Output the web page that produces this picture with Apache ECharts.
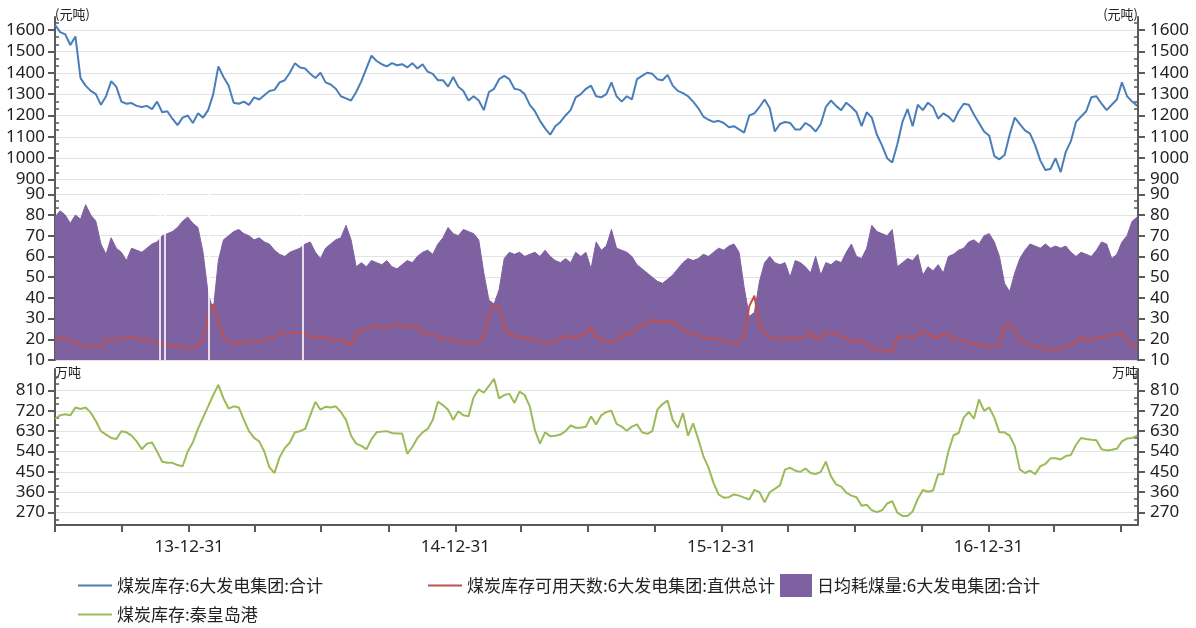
<!DOCTYPE html>
<html>
<head>
<meta charset="utf-8">
<script src="https://cdn.jsdelivr.net/npm/echarts@6/dist/echarts.min.js"></script>
<style>
  html, body { margin: 0; padding: 0; background: #fff; }
  #chart { width: 1196px; height: 628px; }
</style>
</head>
<body>
<div id="chart"></div>
<script>
// Weekly readings: first value on 2013-06-30, then one value every 7 days.
const firstDay = [2013, 5, 30];
const lastDay = [2017, 6, 24];
const stepDays = 7;

// 煤炭库存:6大发电集团:合计
const stockTotal = [
  1625, 1590, 1580, 1530, 1570, 1375, 1340, 1315, 1300, 1250,
  1290, 1360, 1335, 1265, 1255, 1258, 1245, 1240, 1245, 1230,
  1265, 1215, 1220, 1185, 1155, 1190, 1200, 1165, 1210, 1190,
  1225, 1300, 1430, 1380, 1340, 1260, 1255, 1265, 1250, 1285,
  1275, 1295, 1315, 1320, 1355, 1365, 1400, 1445, 1425, 1420,
  1395, 1375, 1400, 1355, 1345, 1325, 1290, 1280, 1270, 1310,
  1360, 1420, 1480, 1455, 1440, 1430, 1445, 1435, 1440, 1425,
  1445, 1420, 1440, 1405, 1395, 1365, 1365, 1335, 1380, 1335,
  1315, 1270, 1290, 1270, 1225, 1310, 1325, 1370, 1385, 1370,
  1325, 1320, 1300, 1250, 1220, 1175, 1140, 1110, 1150, 1170,
  1200, 1225, 1285, 1300, 1325, 1340, 1290, 1285, 1300, 1355,
  1290, 1265, 1290, 1275, 1370, 1385, 1400, 1395, 1370, 1365,
  1390, 1340, 1315, 1305, 1290, 1265, 1235, 1195, 1180, 1170,
  1175, 1165, 1145, 1150, 1135, 1120, 1200, 1210, 1240, 1275,
  1235, 1125, 1160, 1170, 1165, 1135, 1135, 1165, 1150, 1125,
  1160, 1240, 1270, 1245, 1225, 1260, 1240, 1215, 1150, 1215,
  1190, 1110, 1060, 1000, 980, 1065, 1170, 1230, 1150, 1250,
  1225, 1260, 1240, 1185, 1210, 1195, 1170, 1220, 1255, 1250,
  1205, 1165, 1125, 1105, 1010, 995, 1015, 1110, 1190, 1160,
  1130, 1115, 1060, 990, 945, 950, 1000, 935, 1030, 1080,
  1170, 1195, 1220, 1285, 1290, 1255, 1225, 1250, 1275, 1355,
  1290, 1265, 1245
];

// 日均耗煤量:6大发电集团:合计
const dailyBurn = [
  79, 82, 80, 76, 80, 78, 85, 80, 77, 66,
  61, 69, 64, 62, 58, 64, 63, 62, 64, 66,
  67, 70, 71, 72, 74, 77, 79, 76, 74, 62,
  42, 34, 58, 68, 70, 72, 73, 71, 70, 68,
  69, 67, 66, 63, 61, 60, 62, 63, 64, 66,
  67, 62, 59, 64, 66, 68, 69, 75, 68, 55,
  57, 55, 58, 57, 56, 58, 55, 54, 56, 58,
  57, 60, 62, 63, 61, 66, 69, 74, 71, 70,
  73, 72, 71, 68, 52, 39, 37, 44, 59, 62,
  61, 62, 60, 61, 62, 60, 63, 60, 58, 57,
  59, 57, 62, 60, 62, 54, 67, 63, 65, 73,
  64, 63, 62, 60, 56, 54, 52, 50, 48, 47,
  49, 51, 54, 57, 59, 58, 59, 61, 60, 62,
  64, 63, 65, 66, 62, 45, 31, 33, 48, 57,
  60, 57, 56, 57, 50, 58, 57, 55, 52, 60,
  51, 57, 56, 58, 57, 62, 66, 60, 59, 64,
  75, 72, 71, 70, 73, 55, 57, 59, 58, 61,
  51, 55, 53, 56, 52, 60, 61, 63, 64, 67,
  68, 66, 70, 71, 67, 60, 47, 43, 52, 59,
  63, 66, 65, 64, 66, 64, 65, 64, 65, 62,
  60, 62, 61, 60, 63, 67, 66, 59, 61, 67,
  70, 77, 79
];

// 煤炭库存可用天数:6大发电集团:直供总计
const supplyDays = [
  21, 20, 20, 19.5, 19, 16.5, 16.5, 17, 17, 16,
  20, 20, 20, 19.5, 21, 21, 20, 20, 20, 19,
  18.5, 18, 17.5, 17, 16.5, 16.5, 15.5, 16, 17, 20,
  32, 37, 29, 21, 19, 18, 18, 18.5, 19, 19,
  19, 19.5, 20.5, 21, 22.5, 23, 23.5, 23, 23, 22.5,
  21, 21.5, 20.5, 21, 20, 19, 20, 19, 17, 23,
  24, 25, 26, 26.5, 25, 26, 27, 27.5, 26, 26,
  27, 26, 23, 22.5, 22, 21.5, 20, 20, 19.5, 19,
  18.5, 18, 18, 18.5, 22, 32, 37, 36, 26, 22,
  21.5, 21.5, 21, 20.5, 19.5, 19, 18.5, 18, 19, 20.5,
  21.5, 21.5, 21, 22, 22.5, 26, 21, 20, 19, 18.5,
  19.5, 21.5, 22.5, 23, 25.5, 27, 27.5, 29.5, 28.5, 29,
  28, 28.5, 27, 25, 23.5, 22.5, 22, 21, 20.5, 20,
  20, 19, 18.5, 18.5, 18, 22, 36, 41, 26, 23,
  21, 20, 20, 20.5, 21, 20, 20.5, 21, 23.5, 20,
  21, 23, 23, 22.5, 21.5, 21, 18.5, 19.5, 19, 18,
  15.5, 15, 15, 14, 14, 20.5, 21.5, 21.5, 21, 22,
  24, 23, 21, 21, 22.5, 22, 20, 20, 19.5, 18,
  17.5, 17.5, 16.5, 16.5, 16.5, 17, 26, 28, 24, 20,
  18.5, 17, 16.5, 16, 15.5, 15, 15, 15.5, 16.5, 17,
  19.5, 20.5, 20, 20, 20.5, 21, 21.5, 22, 22.5, 23,
  19, 17, 16.5
];

// 煤炭库存:秦皇岛港
const qhdStock = [
  685, 700, 705, 700, 735, 728, 735, 712, 675, 630,
  615, 600, 595, 630, 625, 610, 585, 550, 575, 580,
  540, 495, 490, 490, 480, 475, 540, 580, 640, 690,
  740, 790, 835, 775, 730, 740, 735, 680, 630, 600,
  585, 540, 470, 445, 515, 555, 580, 625, 630, 640,
  700, 760, 725, 738, 735, 740, 715, 680, 610, 575,
  565, 550, 595, 625, 628, 630, 622, 620, 620, 530,
  560, 600, 625, 640, 680, 760, 745, 725, 680, 718,
  700, 696, 780, 815, 800, 830, 862, 775, 790, 795,
  755, 805, 790, 740, 635, 575, 625, 608, 610, 615,
  630, 655, 645, 645, 650, 695, 660, 700, 715, 720,
  662, 650, 632, 650, 660, 625, 618, 630, 725, 750,
  765, 680, 645, 710, 610, 665, 595, 520, 470, 400,
  350, 336, 338, 350, 345, 336, 328, 370, 360, 315,
  360, 375, 390, 460, 468, 455, 450, 465, 445, 440,
  450, 495, 430, 395, 385, 358, 345, 338, 300, 305,
  280, 272, 280, 310, 320, 270, 255, 255, 275, 330,
  370, 362, 368, 440, 440, 540, 612, 622, 690, 715,
  685, 770, 720, 735, 690, 625, 625, 610, 565, 460,
  445, 455, 440, 475, 485, 510, 510, 505, 520, 525,
  570, 600, 595, 592, 590, 550, 545, 548, 552, 585,
  598, 600, 610
];

// Days with no 日均耗煤量 reading (drawn as blank slivers in the area)
const gapDays = ['2013-11-21', '2013-11-27', '2014-01-27', '2014-06-05'];

// Tick labels per panel
const priceTicks = [900, 1000, 1100, 1200, 1300, 1400, 1500, 1600];
const burnTicks = [10, 20, 30, 40, 50, 60, 70, 80, 90];
const portTicks = [270, 360, 450, 540, 630, 720, 810];

const seriesNames = {
  stock: '煤炭库存:6大发电集团:合计',
  days: '煤炭库存可用天数:6大发电集团:直供总计',
  burn: '日均耗煤量:6大发电集团:合计',
  port: '煤炭库存:秦皇岛港'
};

// ---- build the daily category axis ----
const days = [];
for (let t = Date.UTC(...firstDay); t <= Date.UTC(...lastDay); t += 86400000) {
  days.push(new Date(t).toISOString().slice(0, 10));
}
const weekly = arr => arr.map((v, i) => [i * stepDays, v]);

const LATIN = "'Noto Sans', 'Noto Sans CJK SC', sans-serif";
const CJK = "'Noto Sans CJK SC', 'Noto Sans', sans-serif";
const AXIS_COLOR = '#5a5a5a';
const TEXT_COLOR = '#222';

function minorOf(ticks, lo, hi) {
  const step = ticks[1] - ticks[0];
  const out = [];
  for (let v = ticks[0] - step; v <= ticks[ticks.length - 1] + step; v += step) {
    [1 / 3, 2 / 3].forEach(f => {
      const m = v + step * f;
      if (m > lo && m < hi) out.push(m);
    });
  }
  return out;
}

function panelAxes(gridIndex, min, max, ticks, unit, unitGap) {
  const minors = minorOf(ticks, min, max);
  const nameStyle = { fontSize: 13, color: TEXT_COLOR, fontFamily: CJK, verticalAlign: 'top' };
  const base = { type: 'value', gridIndex, min, max, silent: true };
  const mainTick = { show: true, customValues: ticks, length: 7, lineStyle: { color: AXIS_COLOR, width: 2 } };
  const label = {
    customValues: ticks, color: TEXT_COLOR, fontSize: 17, fontFamily: LATIN,
    formatter: v => String(Math.round(v))
  };
  const minorAxis = pos => Object.assign({}, base, {
    position: pos,
    axisLine: { show: false },
    axisLabel: { show: false },
    splitLine: { show: false },
    axisTick: { show: true, inside: true, customValues: minors, length: 4, lineStyle: { color: AXIS_COLOR, width: 1.5 } }
  });
  return [
    Object.assign({}, base, {
      position: 'left',
      name: unit, nameLocation: 'end', nameGap: unitGap,
      nameTextStyle: Object.assign({ align: 'left' }, nameStyle),
      axisLine: { show: true, lineStyle: { color: AXIS_COLOR, width: 2 } },
      axisTick: mainTick,
      axisLabel: Object.assign({ margin: 10 }, label),
      splitLine: { show: true, lineStyle: { color: '#e3e3e3', width: 1 } }
    }),
    Object.assign({}, base, {
      position: 'right',
      name: unit, nameLocation: 'end', nameGap: unitGap,
      nameTextStyle: Object.assign({ align: 'right' }, nameStyle),
      axisLine: { show: true, lineStyle: { color: AXIS_COLOR, width: 2 } },
      axisTick: mainTick,
      axisLabel: Object.assign({ margin: 12 }, label),
      splitLine: { show: false }
    }),
    minorAxis('left'),
    minorAxis('right')
  ];
}

const quarterEnd = v => /-(03-31|06-30|09-30|12-31)$/.test(v);
const yearEnd = v => /-12-31$/.test(v);

const hiddenX = gridIndex => ({
  type: 'category', gridIndex, data: days, boundaryGap: false, show: false
});

const lineLegend = (name, left, top) => ({
  data: [{ name, icon: 'rect' }],
  left, top, padding: 0,
  itemWidth: 34, itemHeight: 2, itemGap: 0,
  textStyle: { fontSize: 17, color: TEXT_COLOR, fontFamily: CJK },
  selectedMode: false
});

const chart = echarts.init(document.getElementById('chart'), null, { renderer: 'canvas' });
chart.setOption({
  animation: false,
  backgroundColor: '#ffffff',
  grid: [
    { left: 55, right: 58, top: 17, height: 169, outerBoundsMode: 'none' },
    { left: 55, right: 58, top: 186, height: 174, outerBoundsMode: 'none' },
    { left: 55, right: 58, top: 369, height: 156, outerBoundsMode: 'none' }
  ],
  xAxis: [
    hiddenX(0),
    hiddenX(1),
    {
      type: 'category', gridIndex: 2, data: days, boundaryGap: false,
      axisLine: { show: true, lineStyle: { color: AXIS_COLOR, width: 2 } },
      axisTick: { show: true, interval: (i, v) => quarterEnd(v), length: 7, lineStyle: { color: AXIS_COLOR, width: 2 } },
      axisLabel: {
        interval: (i, v) => yearEnd(v),
        formatter: v => v.slice(2),
        margin: 14, fontSize: 17, color: TEXT_COLOR, fontFamily: LATIN
      },
      splitLine: { show: false }
    }
  ],
  yAxis: [
    ...panelAxes(0, 870, 1661, priceTicks, '(元吨)', 9),
    ...panelAxes(1, 10, 94, burnTicks, '', 0),
    ...panelAxes(2, 215, 905, portTicks, '万吨', 3)
  ],
  legend: [
    lineLegend(seriesNames.stock, 78, 577),
    lineLegend(seriesNames.days, 428, 577),
    {
      data: [{ name: seriesNames.burn, icon: 'rect' }],
      left: 780, top: 574, padding: 0,
      itemWidth: 32, itemHeight: 23, itemGap: 0,
      textStyle: { fontSize: 17, color: TEXT_COLOR, fontFamily: CJK },
      selectedMode: false
    },
    lineLegend(seriesNames.port, 78, 606)
  ],
  series: [
    {
      name: seriesNames.stock, type: 'line', xAxisIndex: 0, yAxisIndex: 0,
      data: weekly(stockTotal), symbol: 'none', color: '#4a7ebb',
      lineStyle: { width: 2, color: '#4a7ebb' }, z: 3
    },
    {
      name: seriesNames.burn, type: 'line', xAxisIndex: 1, yAxisIndex: 4,
      data: weekly(dailyBurn), symbol: 'none', color: '#7e61a1',
      lineStyle: { width: 1, color: '#7e61a1' },
      areaStyle: { color: '#7e61a1', opacity: 1 }, z: 2,
      markLine: {
        silent: true, symbol: 'none', animation: false,
        label: { show: false },
        lineStyle: { color: '#ffffff', width: 1.6, type: 'solid' },
        emphasis: { disabled: true },
        data: gapDays.map(d => ({ xAxis: d }))
      }
    },
    {
      name: seriesNames.days, type: 'line', xAxisIndex: 1, yAxisIndex: 4,
      data: weekly(supplyDays), symbol: 'none', color: '#c0504d',
      lineStyle: { width: 2, color: '#c0504d' }, z: 4
    },
    {
      name: seriesNames.port, type: 'line', xAxisIndex: 2, yAxisIndex: 8,
      data: weekly(qhdStock), symbol: 'none', color: '#9bbb59',
      lineStyle: { width: 2, color: '#9bbb59' }, z: 3
    }
  ]
});
</script>
</body>
</html>
